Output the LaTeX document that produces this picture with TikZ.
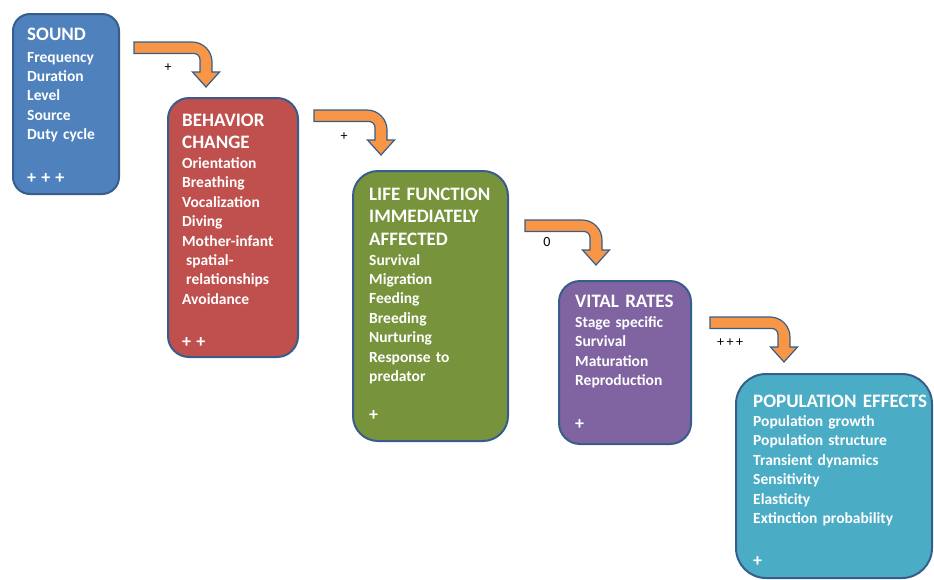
\documentclass[tikz,border=0pt]{standalone}
\usepackage{fontspec}
\setmainfont{Carlito}[WordSpace=0.8]
\usepackage{tikz}

\definecolor{soundblue}{HTML}{4F81BD}
\definecolor{behavred}{HTML}{C0504D}
\definecolor{lifegreen}{HTML}{77933C}
\definecolor{vitalpurple}{HTML}{8064A2}
\definecolor{popcyan}{HTML}{4BACC6}
\definecolor{edgeblue}{HTML}{385D8A}
\definecolor{arroworange}{HTML}{F79646}

\tikzset{
	stage/.style={draw=edgeblue,line width=2pt,anchor=north west,inner sep=0pt},
	stagetitle/.style={text=white,anchor=base west,inner sep=0pt,text width=200pt,align=left,font=\fontsize{19}{22.5}\selectfont\bfseries},
	stageitems/.style={text=white,anchor=base west,inner sep=0pt,text width=200pt,align=left,font=\fontsize{15.5}{19.4}\selectfont\bfseries},
	effect/.style={inner sep=0pt,font=\fontsize{14}{16}\selectfont}
}

\newcommand{\bentarrow}[2]{%
	\begin{scope}[shift={(#1)}]
		\filldraw[fill=arroworange,draw=edgeblue,line width=1.2pt]
		(0,0) [rounded corners=20pt] -- (#2,0) [sharp corners] -- (#2,30) -- (#2+7.5,30) -- (#2-6,45)
		-- (#2-19.5,30) -- (#2-12,30) [rounded corners=6pt] -- (#2-12,11.5) [sharp corners] -- (0,11.5) -- cycle;
	\end{scope}}
\newcommand{\signs}[1]{{\fontsize{18}{19.4}\selectfont #1}}

\begin{document}
\begin{tikzpicture}[x=1pt,y=-1pt]
		\useasboundingbox (0,0) rectangle (934,579);

		\node[stage,fill=soundblue,minimum width=106pt,minimum height=180pt,rounded corners=17pt] (sound) at (12,13) {};
		\node[stage,fill=behavred,minimum width=130pt,minimum height=259pt,rounded corners=21pt] (behavior) at (167,97) {};
		\node[stage,fill=lifegreen,minimum width=155pt,minimum height=270pt,rounded corners=25pt] (life) at (352,170) {};
		\node[stage,fill=vitalpurple,minimum width=132pt,minimum height=163pt,rounded corners=21pt] (vital) at (558,280) {};
		\node[stage,fill=popcyan,minimum width=196pt,minimum height=204pt,rounded corners=30pt] (pop) at (735,373) {};

		\node[stagetitle] (soundtitle) at ([shift={(15,27)}]sound.north west) {SOUND};
		\node[stageitems] (sounditems) at ([shift={(0,22)}]soundtitle.base west)
		{Frequency\\Duration\\Level\\Source\\Duty cycle\\[24pt]\signs{+ + +}};

		\node[stagetitle] (behaviortitle) at ([shift={(15,29)}]behavior.north west) {BEHAVIOR\\CHANGE};
		\node[stageitems] (behavioritems) at ([shift={(0,42.5)}]behaviortitle.base west)
		{Orientation\\Breathing\\Vocalization\\Diving\\Mother-infant\\\hspace*{4pt}spatial-\\\hspace*{4pt}relationships\\Avoidance\\[24pt]\signs{+ +}};

		\node[stagetitle] (lifetitle) at ([shift={(17,30)}]life.north west) {LIFE FUNCTION\\IMMEDIATELY\\AFFECTED};
		\node[stageitems] (lifeitems) at ([shift={(0,65)}]lifetitle.base west)
		{Survival\\Migration\\Feeding\\Breeding\\Nurturing\\Response to\\predator\\[20pt]\signs{+}};

		\node[stagetitle] (vitaltitle) at ([shift={(17,27)}]vital.north west) {VITAL RATES};
		\node[stageitems] (vitalitems) at ([shift={(0,20.5)}]vitaltitle.base west)
		{Stage specific\\Survival\\Maturation\\Reproduction\\[24pt]\signs{+}};

		\node[stagetitle] (poptitle) at ([shift={(18,34)}]pop.north west) {POPULATION EFFECTS};
		\node[stageitems] (popitems) at ([shift={(0,19.5)}]poptitle.base west)
		{Population growth\\Population structure\\Transient dynamics\\Sensitivity\\Elasticity\\Extinction probability\\[24pt]\signs{+}};

		\coordinate (a1) at ([shift={(14,29)}]sound.north east);
		\coordinate (a2) at ([shift={(15,13)}]behavior.north east);
		\coordinate (a3) at ([shift={(16,50)}]life.north east);
		\coordinate (a4) at ([shift={(18,37)}]vital.north east);
		\foreach \a/\len in {a1/78,a2/73,a3/77,a4/80}
		\bentarrow{\a}{\len};

		\node[effect] (e1) at ([shift={(34,26)}]a1) {+};
		\node[effect] (e2) at ([shift={(30,27)}]a2) {+};
		\node[effect] (e3) at ([shift={(22,22)}]a3) {0};
		\node[effect] (e4) at ([shift={(20,26)}]a4) {+ + +};
\end{tikzpicture}
\end{document}
